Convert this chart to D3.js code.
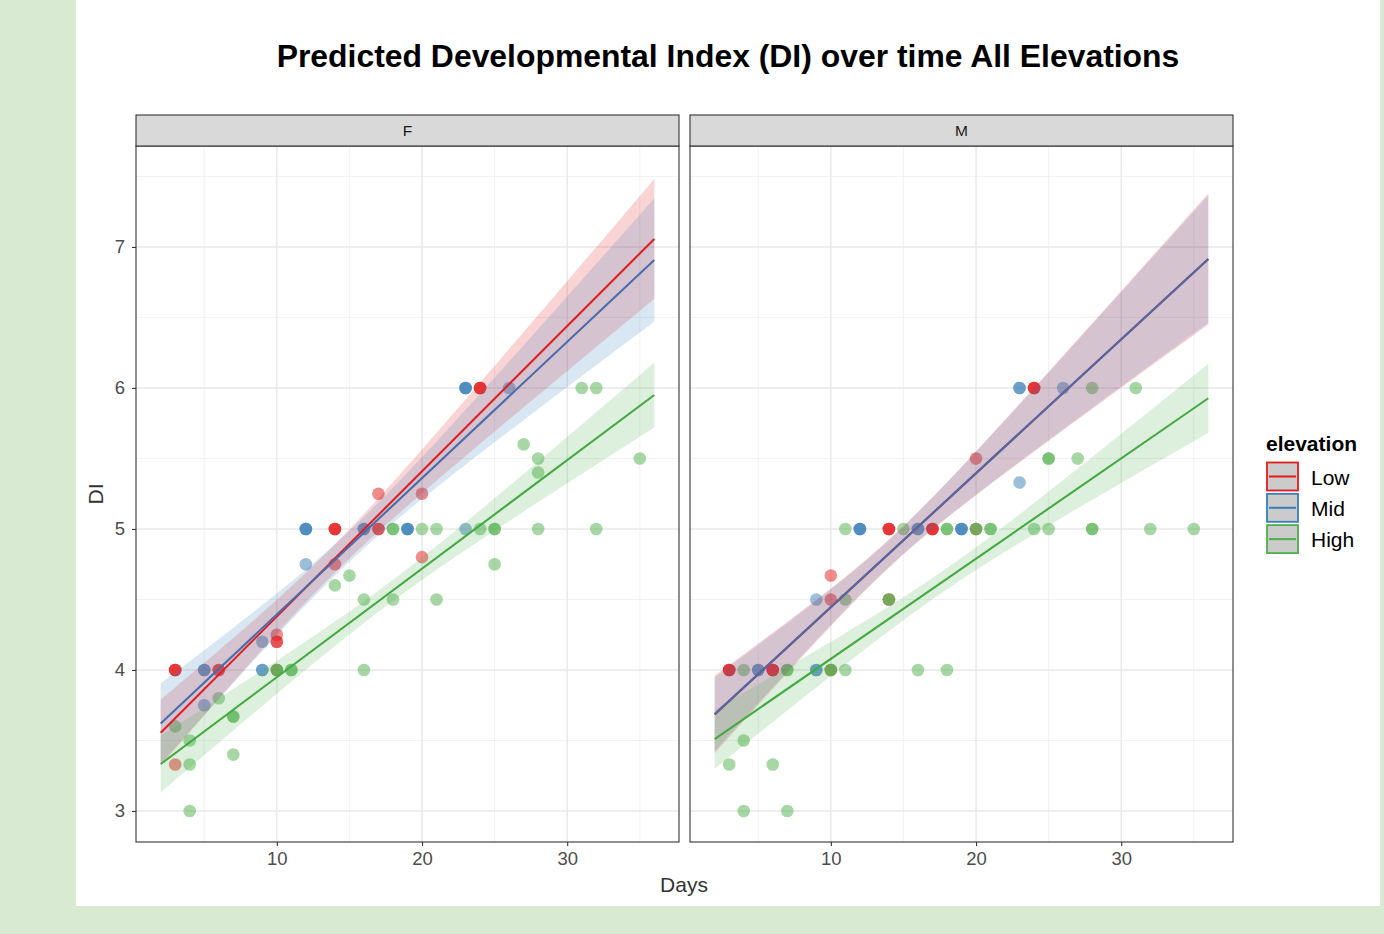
<!DOCTYPE html>
<html>
<head>
<meta charset="utf-8">
<script src="https://cdn.jsdelivr.net/npm/d3@7"></script>
<style>
  html, body { margin: 0; padding: 0; background: #d9ead3; }
  svg { display: block; }
</style>
</head>
<body>
<script>
// ---- data -------------------------------------------------------------
const facets = ["F", "M"];
const groups = ["Low", "Mid", "High"];
const groupColors = ["#E41A1C", "#377EB8", "#4DAF4A"];
const lineColors = ["#dc2026", "#4b6cab", "#45a942"];
const xTicks = [10, 20, 30];
const yTicks = [3, 4, 5, 6, 7];

// observations: [days, DI, number of overlapping observations]
const ptsF_Low = [[3,4,3],[3,3.33,1],[6,4,2],[10,4.25,1],[10,4.2,2],[10,4,1],[14,5,3],[14,4.75,1],
                  [17,5.25,1],[17,5,2],[20,5.25,1],[20,4.8,1],[24,6,3]];
const ptsF_Mid = [[5,4,2],[5,3.75,1],[9,4.2,1],[9,4,2],[12,5,3],[12,4.75,1],[16,5,2],[19,5,3],
                  [23,6,3],[23,5,1],[26,6,1]];
const ptsF_High = [[3,3.6,1],[4,3.5,1],[4,3.33,1],[4,3,1],[6,3.8,1],[7,3.67,2],[7,3.4,1],[10,4,2],
                   [11,4,2],[14,4.6,1],[15,4.67,1],[16,4.5,1],[16,4,1],[18,4.5,1],[18,5,2],[20,5,1],
                   [21,5,1],[21,4.5,1],[24,5,1],[25,5,2],[25,4.75,1],[27,5.6,1],[28,5.5,1],[28,5.4,1],
                   [28,5,1],[31,6,1],[32,6,1],[32,5,1],[35,5.5,1]];
const ptsM_Low = [[3,4,3],[6,4,3],[10,4.67,1],[10,4.5,1],[10,4,1],[14,5,3],[14,4.5,1],[17,5,3],
                  [20,5.5,1],[20,5,1],[24,6,3]];
const ptsM_Mid = [[5,4,2],[9,4.5,1],[9,4,2],[12,5,3],[16,5,2],[19,5,3],[23,6,2],[23,5.33,1],[26,6,1]];
const ptsM_High = [[3,3.33,1],[4,4,1],[4,3.5,1],[4,3,1],[6,3.33,1],[7,4,2],[7,3,1],[10,4,2],[11,4,1],
                   [11,5,1],[11,4.5,1],[14,4.5,2],[15,5,1],[16,4,1],[18,5,2],[18,4,1],[20,5,2],[21,5,2],
                   [24,5,1],[25,5,1],[25,5.5,2],[27,5.5,1],[28,6,1],[28,5,2],[31,6,1],[32,5,1],[35,5,1]];

// linear fits: predicted DI at the first and last day of the fitted range
const fitRange = [2, 36];
const fitF_Low = [3.555, 7.057];
const fitF_Mid = [3.62, 6.908];
const fitF_High = [3.333, 5.95];
const fitM_Low = [3.685, 6.915];
const fitM_Mid = [3.686, 6.915];
const fitM_High = [3.51, 5.927];

// confidence band half-widths: [at first day, narrowest, at last day]
const bandF_Low = [0.235, 0.10, 0.425];
const bandF_Mid = [0.285, 0.11, 0.437];
const bandF_High = [0.20, 0.075, 0.23];
const bandM_Low = [0.275, 0.10, 0.465];
const bandM_Mid = [0.262, 0.095, 0.452];
const bandM_High = [0.21, 0.075, 0.245];

const panelPoints = { F: [ptsF_Low, ptsF_Mid, ptsF_High], M: [ptsM_Low, ptsM_Mid, ptsM_High] };
const panelFits = { F: [fitF_Low, fitF_Mid, fitF_High], M: [fitM_Low, fitM_Mid, fitM_High] };
const panelBands = { F: [bandF_Low, bandF_Mid, bandF_High], M: [bandM_Low, bandM_Mid, bandM_High] };

// ---- layout -------------------------------------------------------------
const W = 1384, H = 934;
const panelTop = 146, panelBottom = 842, stripTop = 115;
const panelX = { F: [136, 679], M: [690, 1233] };
const font = "'Liberation Sans', Arial, sans-serif";

const svg = d3.select("body").append("svg").attr("width", W).attr("height", H);
svg.append("rect").attr("width", W).attr("height", H).attr("fill", "#d9ead3");
svg.append("rect").attr("x", 76).attr("y", 0).attr("width", 1304).attr("height", 906).attr("fill", "#ffffff");

const y = d3.scaleLinear().domain([2.78, 7.716]).range([panelBottom, panelTop]);

// title
const title = svg.append("text")
  .attr("x", 728).attr("y", 67).attr("text-anchor", "middle")
  .attr("font-family", font).attr("font-weight", "bold").attr("font-size", 30).attr("fill", "#000")
  .text("Predicted Developmental Index (DI) over time All Elevations");
const tw = title.node().getComputedTextLength();
title.attr("font-size", 30 * 903 / tw);

// band half-width along days, shaped like a regression confidence interval
function bandFn(b) {
  const [hL, h0, hR] = b;
  const aL = Math.sqrt(hL * hL - h0 * h0), aR = Math.sqrt(hR * hR - h0 * h0);
  const xc = (aL * fitRange[1] + aR * fitRange[0]) / (aL + aR);
  const k = aL / (xc - fitRange[0]);
  return d => Math.sqrt(h0 * h0 + k * k * (d - xc) * (d - xc));
}

facets.forEach(f => {
  const [x0, x1] = panelX[f];
  const x = d3.scaleLinear().domain([0.3, 37.7]).range([x0, x1]);
  const g = svg.append("g");

  g.append("rect").attr("x", x0).attr("y", panelTop).attr("width", x1 - x0).attr("height", panelBottom - panelTop)
    .attr("fill", "#fff");

  const clipId = "clip" + f;
  svg.append("clipPath").attr("id", clipId).append("rect")
    .attr("x", x0).attr("y", panelTop).attr("width", x1 - x0).attr("height", panelBottom - panelTop);
  const inner = g.append("g").attr("clip-path", `url(#${clipId})`);

  // grid
  const minorX = [5, 15, 25, 35], minorY = [3.5, 4.5, 5.5, 6.5, 7.5];
  inner.selectAll(".mx").data(minorX).join("line")
    .attr("x1", d => x(d)).attr("x2", d => x(d)).attr("y1", panelTop).attr("y2", panelBottom)
    .attr("stroke", "#ececec").attr("stroke-width", 0.7);
  inner.selectAll(".my").data(minorY).join("line")
    .attr("y1", d => y(d)).attr("y2", d => y(d)).attr("x1", x0).attr("x2", x1)
    .attr("stroke", "#ececec").attr("stroke-width", 0.7);
  inner.selectAll(".gx").data(xTicks).join("line")
    .attr("x1", d => x(d)).attr("x2", d => x(d)).attr("y1", panelTop).attr("y2", panelBottom)
    .attr("stroke", "#e8e8e8").attr("stroke-width", 1.4);
  inner.selectAll(".gy").data(yTicks).join("line")
    .attr("y1", d => y(d)).attr("y2", d => y(d)).attr("x1", x0).attr("x2", x1)
    .attr("stroke", "#e8e8e8").attr("stroke-width", 1.4);

  // points
  groups.forEach((grp, gi) => {
    const expanded = [];
    panelPoints[f][gi].forEach(([d, v, n]) => { for (let i = 0; i < n; i++) expanded.push([d, v]); });
    inner.append("g").selectAll("circle").data(expanded).join("circle")
      .attr("cx", d => x(d[0])).attr("cy", d => y(d[1])).attr("r", 6.3)
      .attr("fill", groupColors[gi]).attr("fill-opacity", 0.5);
  });

  // confidence bands
  const steps = d3.range(0, 81).map(i => fitRange[0] + (fitRange[1] - fitRange[0]) * i / 80);
  groups.forEach((grp, gi) => {
    const fit = panelFits[f][gi];
    const fitX = d3.scaleLinear().domain(fitRange).range(fit);
    const hw = bandFn(panelBands[f][gi]);
    inner.append("path")
      .datum(steps)
      .attr("d", d3.area().x(d => x(d)).y0(d => y(fitX(d) - hw(d))).y1(d => y(fitX(d) + hw(d))))
      .attr("fill", groupColors[gi]).attr("fill-opacity", 0.19);
  });

  // fitted lines
  groups.forEach((grp, gi) => {
    const fit = panelFits[f][gi];
    const fitX = d3.scaleLinear().domain(fitRange).range(fit);
    inner.append("path")
      .datum(fitRange)
      .attr("d", d3.line().x(d => x(d)).y(d => y(fitX(d))))
      .attr("fill", "none").attr("stroke", lineColors[gi]).attr("stroke-width", 2.1);
  });

  // panel border
  g.append("rect").attr("x", x0).attr("y", panelTop).attr("width", x1 - x0).attr("height", panelBottom - panelTop)
    .attr("fill", "none").attr("stroke", "#333").attr("stroke-width", 1.1);

  // strip
  g.append("rect").attr("x", x0).attr("y", stripTop).attr("width", x1 - x0).attr("height", panelTop - stripTop)
    .attr("fill", "#d9d9d9").attr("stroke", "#333").attr("stroke-width", 1.1);
  g.append("text").attr("x", (x0 + x1) / 2).attr("y", (stripTop + panelTop) / 2 + 5.5)
    .attr("text-anchor", "middle").attr("font-family", font).attr("font-size", 15.5).attr("fill", "#1a1a1a")
    .text(f);

  // x axis
  const ax = g.append("g").attr("transform", `translate(0,${panelBottom})`)
    .call(d3.axisBottom(x).tickValues(xTicks).tickSize(4).tickPadding(6).tickFormat(d3.format("d")));
  ax.select(".domain").remove();
  ax.selectAll(".tick line").attr("stroke", "#333").attr("stroke-width", 1.1);
  ax.selectAll(".tick text").attr("font-family", font).attr("font-size", 18.5).attr("fill", "#4d4d4d");

  if (f === "F") {
    const ay = g.append("g").attr("transform", `translate(${x0},0)`)
      .call(d3.axisLeft(y).tickValues(yTicks).tickSize(4).tickPadding(7).tickFormat(d3.format("d")));
    ay.select(".domain").remove();
    ay.selectAll(".tick line").attr("stroke", "#333").attr("stroke-width", 1.1);
    ay.selectAll(".tick text").attr("font-family", font).attr("font-size", 18.5).attr("fill", "#4d4d4d");
  }
});

// axis titles
svg.append("text").attr("x", 684).attr("y", 892).attr("text-anchor", "middle")
  .attr("font-family", font).attr("font-size", 21).attr("fill", "#333").text("Days");
svg.append("text").attr("transform", "translate(103,494) rotate(-90)").attr("text-anchor", "middle")
  .attr("font-family", font).attr("font-size", 21).attr("fill", "#333").text("DI");

// legend
const lg = svg.append("g");
lg.append("text").attr("x", 1266).attr("y", 451).attr("font-family", font).attr("font-weight", "bold")
  .attr("font-size", 21).attr("fill", "#000").text("elevation");
groups.forEach((grp, i) => {
  const ky = 462.5 + i * 31.3;
  lg.append("rect").attr("x", 1267).attr("y", ky).attr("width", 31).attr("height", 28)
    .attr("fill", "#cbcbcb").attr("stroke", groupColors[i]).attr("stroke-width", 1.8);
  lg.append("line").attr("x1", 1269).attr("x2", 1296).attr("y1", ky + 14).attr("y2", ky + 14)
    .attr("stroke", groupColors[i]).attr("stroke-width", 2);
  lg.append("text").attr("x", 1311).attr("y", ky + 22).attr("font-family", font).attr("font-size", 21)
    .attr("fill", "#000").text(grp);
});
</script>
</body>
</html>
